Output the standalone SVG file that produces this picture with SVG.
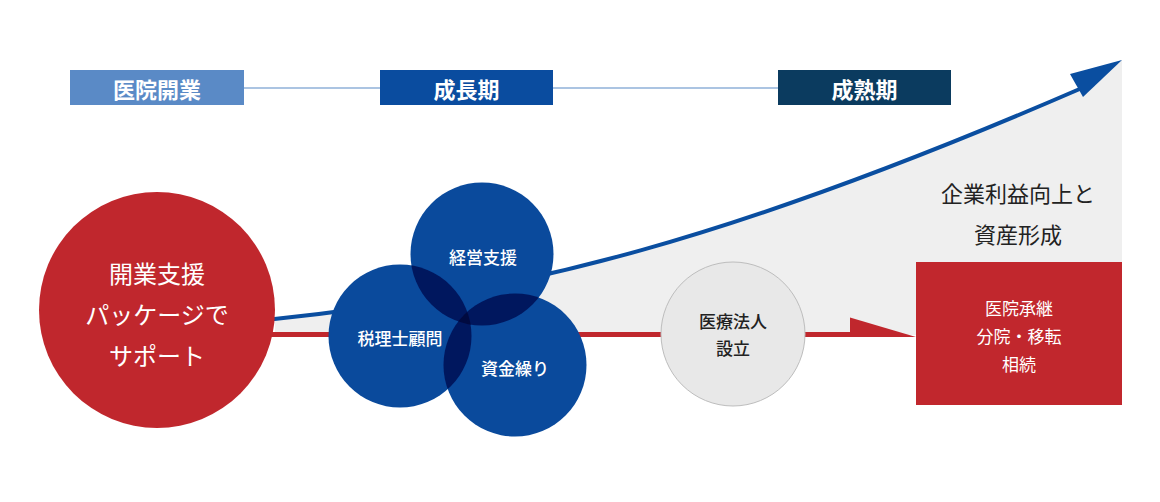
<svg xmlns="http://www.w3.org/2000/svg" width="1160" height="502" viewBox="0 0 1160 502">
<style>
text{font-family:"Noto Sans CJK JP","Noto Sans",sans-serif;text-anchor:middle;dominant-baseline:central}
.hd{font-size:22px;font-weight:700;fill:#fff}
.big{font-size:24px;fill:#fff;font-weight:400}
.bt{font-size:17px;fill:#fff;font-weight:400}
.md{font-weight:500}
.dk{fill:#222}
.bc{fill:#0a4a9c}
.ov{fill:#00175e}
</style>
<defs>
<clipPath id="cA"><circle cx="482" cy="254" r="71.5"/></clipPath>
<clipPath id="cB"><circle cx="400" cy="336" r="71.5"/></clipPath>
</defs>
<rect width="1160" height="502" fill="#fff"/>
<path d="M275,319 C525,292.7 735,238.5 1085,88 L1122,60 L1122,335 L275,335 Z" fill="#efefef"/>
<g id="connectors">
<line x1="244" y1="88" x2="380" y2="88" stroke="#8fb0d8" stroke-width="1.5"/>
<line x1="553" y1="88" x2="778" y2="88" stroke="#8fb0d8" stroke-width="1.5"/>
<line x1="270" y1="334.5" x2="852" y2="334.5" stroke="#c0272d" stroke-width="5"/>
<polygon points="850,317.5 850,337 916,337" fill="#c0272d"/>
<path d="M270,319.5 C525,292.7 735,238.5 1082,88" fill="none" stroke="#0a4ea0" stroke-width="4"/>
<polygon points="1122,60 1070,74 1083,97" fill="#0a4ea0"/>
</g>
<g id="h1"><rect x="70" y="70" width="174" height="35" fill="#5a8ac6"/><text class="hd" x="157" y="87.5">医院開業</text></g>
<g id="h2"><rect x="380" y="70" width="173" height="35" fill="#0a4c9f"/><text class="hd" x="466.5" y="87.5">成長期</text></g>
<g id="h3"><rect x="778" y="70" width="173" height="35" fill="#0b3b5f"/><text class="hd" x="864.5" y="87.5">成熟期</text></g>
<g id="start"><circle cx="157" cy="310" r="118" fill="#c0272d"/>
<text class="big" x="157" y="272">開業支援</text>
<text class="big" x="157" y="313">パッケージで</text>
<text class="big" x="157" y="354">サポート</text></g>
<g id="circles">
<circle class="bc" cx="482" cy="254" r="71.5"/>
<circle class="bc" cx="400" cy="336" r="71.5"/>
<circle class="bc" cx="515" cy="365" r="71.5"/>
<circle class="ov" cx="400" cy="336" r="71.5" clip-path="url(#cA)"/>
<circle class="ov" cx="515" cy="365" r="71.5" clip-path="url(#cA)"/>
<circle class="ov" cx="515" cy="365" r="71.5" clip-path="url(#cB)"/>
<g clip-path="url(#cA)"><circle cx="515" cy="365" r="71.5" fill="#000a40" clip-path="url(#cB)"/></g>
</g>
<g id="n1"><text class="bt md" x="483" y="256">経営支援</text></g>
<g id="n2"><text class="bt md" x="400" y="337">税理士顧問</text></g>
<g id="n3"><text class="bt md" x="515" y="367">資金繰り</text></g>
<g id="corp"><circle cx="733" cy="334" r="72" fill="#e8e8e8" stroke="#bdbdbd" stroke-width="1"/>
<text class="bt dk md" x="733" y="320">医療法人</text>
<text class="bt dk md" x="733" y="347">設立</text></g>
<g id="goal"><text style="font-size:22px" class="dk" x="1018" y="192">企業利益向上と</text>
<text style="font-size:22px" class="dk" x="1018" y="233">資産形成</text></g>
<g id="succ"><rect x="916" y="262" width="206" height="143" fill="#c1272d"/>
<text class="bt" x="1019" y="307">医院承継</text>
<text class="bt" x="1019" y="335">分院・移転</text>
<text class="bt" x="1019" y="363">相続</text></g>
</svg>
